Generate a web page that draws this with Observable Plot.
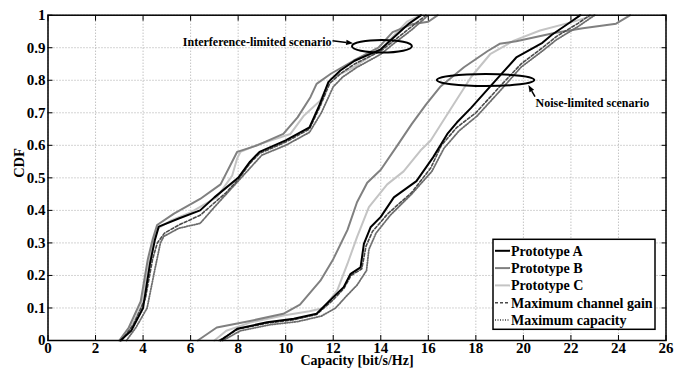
<!DOCTYPE html>
<html>
<head>
<meta charset="utf-8">
<script src="https://cdn.jsdelivr.net/npm/d3@7"></script>
<script src="https://cdn.jsdelivr.net/npm/@observablehq/plot@0.6"></script>
<style>
  body { margin: 0; background: #fff; }
  #chart svg { display: block; }
</style>
</head>
<body>
<div id="chart"></div>
<script>
// Axis ticks
const xTicks = [0, 2, 4, 6, 8, 10, 12, 14, 16, 18, 20, 22, 24, 26];
const yTicks = [0, 0.1, 0.2, 0.3, 0.4, 0.5, 0.6, 0.7, 0.8, 0.9, 1];
const yTickLabels = ["0", "0.1", "0.2", "0.3", "0.4", "0.5", "0.6", "0.7", "0.8", "0.9", "1"];

const seriesNames = ["Prototype A", "Prototype B", "Prototype C", "Maximum channel gain", "Maximum capacity"];

// Empirical CDFs, [capacity (bit/s/Hz), CDF] — interference-limited scenario
const protoA_interference = [[3.05,0],[3.5,0.03],[4.0,0.1],[4.3,0.24],[4.5,0.31],[4.66,0.35],[5.5,0.375],[6.4,0.40],[7.0,0.44],[7.5,0.47],[8.0,0.50],[8.5,0.55],[8.9,0.58],[10.0,0.615],[11.0,0.655],[11.4,0.72],[11.8,0.795],[12.3,0.83],[12.9,0.86],[14.0,0.895],[14.6,0.935],[15.2,0.975],[15.7,1.0]];
const protoB_interference = [[3.0,0],[3.4,0.04],[3.9,0.12],[4.2,0.25],[4.4,0.31],[4.59,0.355],[5.3,0.39],[6.4,0.435],[7.26,0.48],[7.96,0.58],[8.8,0.60],[9.9,0.635],[10.5,0.686],[11.04,0.748],[11.3,0.789],[11.9,0.82],[12.85,0.86],[13.9,0.90],[14.5,0.948],[15.3,0.972],[16.0,0.98],[16.4,1.0]];
const protoC_interference = [[3.05,0],[3.5,0.04],[3.95,0.11],[4.25,0.24],[4.45,0.31],[4.62,0.345],[5.2,0.37],[6.0,0.394],[7.1,0.44],[7.75,0.507],[7.96,0.56],[8.1,0.58],[8.94,0.605],[10.2,0.635],[10.75,0.69],[11.46,0.738],[11.9,0.805],[12.86,0.84],[14.0,0.895],[15.1,0.98],[15.67,1.0]];
const maxGain_interference = [[3.1,0],[3.6,0.05],[4.1,0.13],[4.4,0.25],[4.6,0.3],[4.9,0.33],[5.5,0.355],[6.4,0.385],[7.5,0.455],[8.0,0.495],[8.5,0.545],[8.9,0.575],[10.0,0.61],[11.0,0.65],[11.45,0.72],[11.85,0.79],[12.3,0.82],[12.9,0.85],[14.0,0.89],[14.7,0.93],[15.3,0.965],[15.9,1.0]];
const maxCap_interference = [[3.3,0],[3.7,0.04],[4.17,0.1],[4.5,0.22],[4.73,0.3],[4.87,0.32],[5.5,0.345],[6.4,0.36],[7.0,0.41],[8.0,0.49],[9.0,0.57],[10.0,0.60],[11.0,0.64],[11.5,0.70],[12.0,0.78],[12.4,0.81],[13.0,0.84],[14.0,0.88],[14.5,0.91],[15.3,0.955],[16.0,1.0]];

// Noise-limited scenario
const protoA_noise = [[7.26,0],[7.96,0.036],[9.22,0.056],[10.34,0.067],[11.3,0.082],[12.0,0.133],[12.44,0.164],[12.73,0.205],[13.15,0.225],[13.29,0.297],[13.57,0.348],[14.0,0.38],[14.55,0.44],[15.5,0.49],[16.2,0.563],[16.8,0.635],[17.2,0.67],[17.8,0.715],[18.9,0.805],[19.7,0.87],[20.8,0.915],[21.2,0.94],[22.0,0.98],[22.4,1.0]];
const protoB_noise = [[6.3,0],[6.7,0.02],[7.1,0.04],[8.5,0.06],[9.9,0.082],[10.6,0.11],[11.46,0.184],[12.0,0.25],[12.6,0.34],[13.0,0.425],[13.43,0.485],[14.0,0.525],[14.7,0.6],[15.3,0.665],[15.9,0.725],[16.5,0.78],[17.5,0.84],[18.5,0.89],[19.0,0.912],[19.7,0.92],[21.3,0.945],[22.5,0.96],[23.9,0.974],[24.5,1.0]];
const protoC_noise = [[7.0,0],[7.5,0.03],[8.5,0.055],[9.9,0.077],[11.0,0.09],[11.6,0.10],[12.17,0.154],[12.6,0.236],[13.0,0.318],[13.5,0.41],[14.27,0.48],[14.96,0.52],[15.67,0.584],[16.1,0.615],[16.9,0.707],[17.8,0.81],[18.6,0.88],[19.6,0.922],[20.7,0.953],[22.0,0.978],[23.0,1.0]];
const maxGain_noise = [[7.2,0],[8.0,0.035],[9.2,0.053],[10.3,0.063],[11.3,0.08],[12.0,0.125],[12.45,0.16],[12.75,0.2],[13.2,0.22],[13.38,0.29],[13.65,0.335],[14.3,0.39],[15.3,0.455],[16.1,0.53],[16.55,0.6],[17.2,0.655],[18.0,0.70],[19.0,0.78],[19.9,0.85],[20.8,0.90],[21.4,0.935],[22.3,0.975],[22.8,1.0]];
const maxCap_noise = [[7.35,0],[8.1,0.03],[9.3,0.048],[10.5,0.058],[11.5,0.075],[12.1,0.10],[12.6,0.14],[13.0,0.17],[13.4,0.215],[13.5,0.28],[13.8,0.33],[14.4,0.385],[15.3,0.45],[16.15,0.52],[16.65,0.59],[17.3,0.645],[18.05,0.69],[19.05,0.77],[19.9,0.84],[20.8,0.89],[21.4,0.925],[22.3,0.965],[23.0,1.0]];

// Scenario annotations (data units)
const scenarioLabels = ["Interference-limited scenario", "Noise-limited scenario"];
const labelX = [11.93, 20.51];
const labelY = [0.916, 0.729];
const labelAnchor = ["end", "start"];
const arrowFrom = [[11.99, 0.92], [20.51, 0.748]];
const arrowTo = [[12.86, 0.912], [20.23, 0.784]];
const ellipseCenter = [[14.07, 0.903], [18.43, 0.799]];
const ellipseRadius = [[1.26, 0.0194], [2.05, 0.0185]];

// Line styles per series
const styles = [
  {stroke: "#000000", strokeWidth: 2, dash: null},
  {stroke: "#808080", strokeWidth: 2, dash: null},
  {stroke: "#c4c4c4", strokeWidth: 2, dash: null},
  {stroke: "#4a4a4a", strokeWidth: 1.6, dash: "3,2"},
  {stroke: "#6e6e6e", strokeWidth: 1.8, dash: "1,1.5"}
];

const curves = [
  [protoA_interference, protoA_noise],
  [protoB_interference, protoB_noise],
  [protoC_interference, protoC_noise],
  [maxGain_interference, maxGain_noise],
  [maxCap_interference, maxCap_noise]
];

const yLabelMap = new Map(yTicks.map((t, i) => [t, yTickLabels[i]]));

// Draw order: lighter curves first, black on top
const drawOrder = [2, 1, 4, 3, 0];
const curveMarks = drawOrder.flatMap(s => curves[s].map(pts =>
  Plot.line(pts, {
    x: d => d[0], y: d => d[1],
    stroke: styles[s].stroke,
    strokeWidth: styles[s].strokeWidth,
    strokeDasharray: styles[s].dash,
    strokeLinejoin: "round"
  })
));

// One text mark per scenario label so each keeps its own anchor
const labelMarks = scenarioLabels.map((label, i) =>
  Plot.text([label], {
    x: () => labelX[i], y: () => labelY[i], text: d => d,
    textAnchor: labelAnchor[i], fontSize: 12, fontWeight: "bold", fill: "black"
  })
);

// Ellipses around the curve bundles, with filled-head pointer arrows
function annotations(index, scales) {
  const g = d3.create("svg:g");
  ellipseCenter.forEach(([cx, cy], i) => {
    const [rx, ry] = ellipseRadius[i];
    g.append("ellipse")
      .attr("cx", scales.x(cx)).attr("cy", scales.y(cy))
      .attr("rx", Math.abs(scales.x(cx + rx) - scales.x(cx)))
      .attr("ry", Math.abs(scales.y(cy + ry) - scales.y(cy)))
      .attr("fill", "none").attr("stroke", "black").attr("stroke-width", 2);
  });
  arrowFrom.forEach(([fx, fy], i) => {
    const [tx, ty] = arrowTo[i];
    const x1 = scales.x(fx), y1 = scales.y(fy), x2 = scales.x(tx), y2 = scales.y(ty);
    const a = Math.atan2(y2 - y1, x2 - x1);
    const hl = 7, hw = 2.6;
    const bx = x2 - hl * Math.cos(a), by = y2 - hl * Math.sin(a);
    g.append("line").attr("x1", x1).attr("y1", y1).attr("x2", bx).attr("y2", by)
      .attr("stroke", "black").attr("stroke-width", 1.5);
    g.append("path")
      .attr("d", `M${x2},${y2}L${bx - hw * Math.sin(a)},${by + hw * Math.cos(a)}L${bx + hw * Math.sin(a)},${by - hw * Math.cos(a)}Z`)
      .attr("fill", "black");
  });
  return g.node();
}

// Legend box in the lower-right corner of the frame
function legend(index, scales, values, dims) {
  const boxW = 162, boxH = 90;
  const x0 = dims.width - dims.marginRight - 10.5 - boxW;
  const y0 = dims.height - dims.marginBottom - 10.7 - boxH;
  const g = d3.create("svg:g");
  g.append("rect").attr("x", x0).attr("y", y0).attr("width", boxW).attr("height", boxH)
    .attr("fill", "white").attr("stroke", "black").attr("stroke-width", 1.5);
  seriesNames.forEach((name, i) => {
    const cy = y0 + 11.5 + i * 17.3;
    g.append("line").attr("x1", x0 + 2).attr("x2", x0 + 17).attr("y1", cy).attr("y2", cy)
      .attr("stroke", styles[i].stroke).attr("stroke-width", styles[i].strokeWidth)
      .attr("stroke-dasharray", styles[i].dash);
    g.append("text").attr("x", x0 + 18).attr("y", cy).attr("dy", "0.35em")
      .attr("text-anchor", "start")
      .attr("font-size", 14).attr("fill", "black").text(name);
  });
  return g.node();
}

const chart = Plot.plot({
  width: 679,
  height: 368,
  marginLeft: 47.5,
  marginRight: 13.5,
  marginTop: 14.7,
  marginBottom: 28,
  style: {fontFamily: "'Liberation Serif', 'Times New Roman', serif", fontWeight: "bold", fontSize: "15px", background: "white", overflow: "visible"},
  x: {domain: [0, 26]},
  y: {domain: [0, 1]},
  marks: [
    Plot.gridX(xTicks, {stroke: "#a8a8a8", strokeOpacity: 1, strokeDasharray: "1,2"}),
    Plot.gridY(yTicks, {stroke: "#a8a8a8", strokeOpacity: 1, strokeDasharray: "1,2"}),
    ...curveMarks,
    annotations,
    ...labelMarks,
    Plot.frame({stroke: "black", strokeWidth: 1.5}),
    // inward tick marks on all four sides
    Plot.axisX({ticks: xTicks, anchor: "bottom", tickSize: -5, tickFormat: () => "", label: null}),
    Plot.axisX({ticks: xTicks, anchor: "top", tickSize: -5, tickFormat: () => "", label: null}),
    Plot.axisY({ticks: yTicks, anchor: "left", tickSize: -5, tickFormat: () => "", label: null}),
    Plot.axisY({ticks: yTicks, anchor: "right", tickSize: -5, tickFormat: () => "", label: null}),
    // tick labels
    Plot.axisX({ticks: xTicks, anchor: "bottom", tickSize: 0, tickPadding: 2, fontSize: 15, label: null}),
    Plot.axisY({ticks: yTicks, anchor: "left", tickSize: 0, tickPadding: 2.5, fontSize: 15, tickFormat: d => yLabelMap.get(d), label: null}),
    Plot.text(["Capacity [bit/s/Hz]"], {frameAnchor: "bottom", dy: 24.5, text: d => d, fontSize: 14, fontWeight: "bold", fill: "black"}),
    Plot.text(["CDF"], {frameAnchor: "left", dx: -29, rotate: -90, text: d => d, fontSize: 14.5, fontWeight: "bold", fill: "black"}),
    legend
  ]
});

document.getElementById("chart").append(chart);
</script>
</body>
</html>
